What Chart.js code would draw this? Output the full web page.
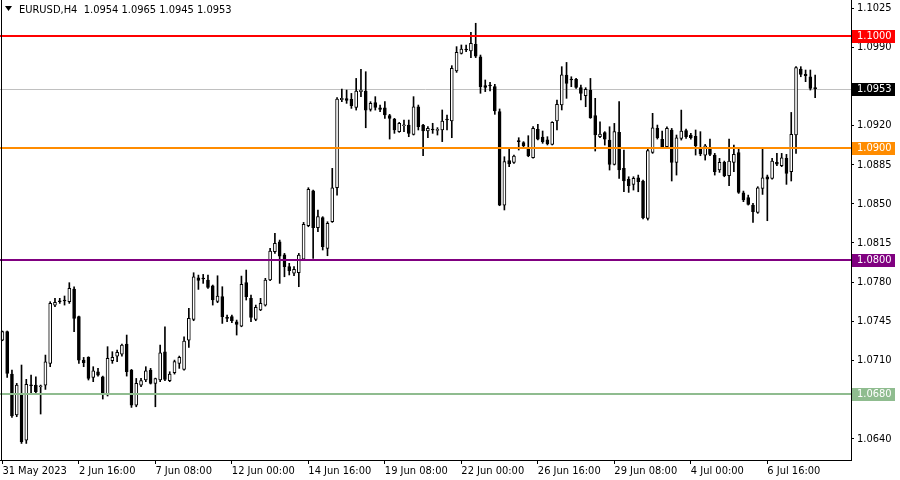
<!DOCTYPE html>
<html>
<head>
<meta charset="utf-8">
<script src="https://cdn.jsdelivr.net/npm/chart.js@4.4.1/dist/chart.umd.min.js"></script>
<style>
  html, body { margin: 0; padding: 0; background: #fff; }
  #wrap { width: 900px; height: 480px; }
</style>
</head>
<body>
<div id="wrap"><canvas id="chart" width="900" height="480"></canvas></div>
<script>
// ---------- Data (EURUSD H4) ----------
const chartTitle = 'EURUSD,H4  1.0954 1.0965 1.0945 1.0953';

const opens = [
  1.07282, 1.07357, 1.06978, 1.06612, 1.06805, 1.06388, 1.06874, 1.06880, 1.06865, 1.06880,
  1.07074, 1.07595, 1.07625, 1.07631, 1.07625, 1.07738, 1.07491, 1.07103, 1.07127, 1.06948,
  1.06999, 1.06954, 1.06791, 1.07097, 1.07139, 1.07157, 1.07246, 1.07014, 1.06701, 1.06880,
  1.06925, 1.07014, 1.06895, 1.06925, 1.07178, 1.06919, 1.06990, 1.07074, 1.07020, 1.07282,
  1.07467, 1.07839, 1.07828, 1.07819, 1.07768, 1.07628, 1.07670, 1.07476, 1.07491, 1.07446,
  1.07407, 1.07795, 1.07655, 1.07467, 1.07551, 1.07595, 1.07819, 1.08072, 1.08161, 1.08045,
  1.07938, 1.07879, 1.07885, 1.08006, 1.08304, 1.08617, 1.08286, 1.08376, 1.08102, 1.08340,
  1.08644, 1.09431, 1.09440, 1.09434, 1.09362, 1.09502, 1.09508, 1.09344, 1.09404, 1.09359,
  1.09359, 1.09288, 1.09258, 1.09145, 1.09198, 1.09204, 1.09121, 1.09368, 1.09204, 1.09151,
  1.09160, 1.09157, 1.09160, 1.09249, 1.09240, 1.09687, 1.09845, 1.09875, 1.09866, 1.09926,
  1.09815, 1.09556, 1.09553, 1.09547, 1.09324, 1.08489, 1.08886, 1.08871, 1.09056, 1.09047,
  1.09002, 1.08913, 1.09166, 1.09097, 1.09071, 1.09032, 1.09240, 1.09383, 1.09651, 1.09607,
  1.09612, 1.09538, 1.09466, 1.09517, 1.09288, 1.09100, 1.09136, 1.09070, 1.08853, 1.09139,
  1.08817, 1.08718, 1.08674, 1.08733, 1.08704, 1.08370, 1.08960, 1.09174, 1.09076, 1.09010,
  1.09160, 1.08870, 1.09085, 1.09154, 1.09115, 1.09103, 1.09002, 1.08936, 1.09002, 1.08936,
  1.08802, 1.08870, 1.08751, 1.08870, 1.08957, 1.08599, 1.08555, 1.08489, 1.08423, 1.08638,
  1.08742, 1.08727, 1.08870, 1.08841, 1.08906, 1.08787, 1.09115, 1.09705, 1.09657, 1.09636,
  1.09540
];
const highs = [
  1.07363, 1.07363, 1.07014, 1.06895, 1.07059, 1.06931, 1.06969, 1.06954, 1.06880, 1.07148,
  1.07625, 1.07655, 1.07655, 1.07676, 1.07795, 1.07759, 1.07497, 1.07127, 1.07133, 1.07044,
  1.07029, 1.06960, 1.07223, 1.07178, 1.07193, 1.07246, 1.07327, 1.07020, 1.06939, 1.06940,
  1.07044, 1.07029, 1.06942, 1.07238, 1.07401, 1.06999, 1.07103, 1.07139, 1.07312, 1.07565,
  1.07884, 1.07863, 1.07869, 1.07863, 1.07774, 1.07857, 1.07759, 1.07506, 1.07506, 1.07461,
  1.07854, 1.07908, 1.07685, 1.07595, 1.07655, 1.07834, 1.08102, 1.08236, 1.08176, 1.08057,
  1.07968, 1.07938, 1.08057, 1.08334, 1.08644, 1.08623, 1.08444, 1.08385, 1.08340, 1.08817,
  1.09449, 1.09526, 1.09517, 1.09487, 1.09621, 1.09702, 1.09681, 1.09413, 1.09458, 1.09383,
  1.09413, 1.09300, 1.09264, 1.09228, 1.09249, 1.09249, 1.09458, 1.09383, 1.09210, 1.09190,
  1.09220, 1.09181, 1.09339, 1.09294, 1.09735, 1.09905, 1.09920, 1.09920, 1.10033, 1.10114,
  1.09830, 1.09607, 1.09586, 1.09568, 1.09348, 1.08921, 1.08996, 1.08936, 1.09091, 1.09056,
  1.09109, 1.09190, 1.09211, 1.09151, 1.09100, 1.09234, 1.09428, 1.09726, 1.09764, 1.09636,
  1.09621, 1.09562, 1.09538, 1.09621, 1.09443, 1.09234, 1.09145, 1.09189, 1.09219, 1.09413,
  1.08981, 1.08742, 1.08742, 1.08757, 1.08712, 1.08990, 1.09309, 1.09204, 1.09151, 1.09189,
  1.09174, 1.09115, 1.09338, 1.09168, 1.09130, 1.09160, 1.09145, 1.09031, 1.09079, 1.08951,
  1.08906, 1.08882, 1.09079, 1.09025, 1.09002, 1.08614, 1.08578, 1.08504, 1.08653, 1.09002,
  1.08757, 1.08906, 1.08951, 1.08951, 1.08942, 1.09317, 1.09726, 1.09726, 1.09696, 1.09696,
  1.09650
];
const lows = [
  1.07276, 1.06948, 1.06591, 1.06597, 1.06358, 1.06358, 1.06811, 1.06811, 1.06621, 1.06841,
  1.07044, 1.07580, 1.07610, 1.07595, 1.07610, 1.07357, 1.07074, 1.07044, 1.06925, 1.06910,
  1.06960, 1.06755, 1.06782, 1.07074, 1.07088, 1.07139, 1.06960, 1.06680, 1.06686, 1.06865,
  1.06910, 1.06889, 1.06686, 1.06910, 1.06919, 1.06910, 1.06978, 1.07029, 1.07014, 1.07217,
  1.07455, 1.07735, 1.07789, 1.07744, 1.07595, 1.07616, 1.07431, 1.07446, 1.07437, 1.07327,
  1.07401, 1.07640, 1.07446, 1.07455, 1.07545, 1.07586, 1.07813, 1.08057, 1.07789, 1.07848,
  1.07864, 1.07858, 1.07759, 1.07997, 1.08295, 1.08012, 1.08251, 1.08087, 1.08036, 1.08334,
  1.08578, 1.09413, 1.09398, 1.09353, 1.09338, 1.09458, 1.09180, 1.09329, 1.09338, 1.09323,
  1.09264, 1.09079, 1.09130, 1.09139, 1.09145, 1.09100, 1.09115, 1.09160, 1.08930, 1.09091,
  1.09130, 1.09115, 1.09056, 1.09160, 1.09091, 1.09675, 1.09839, 1.09860, 1.09807, 1.09807,
  1.09488, 1.09503, 1.09509, 1.09300, 1.08483, 1.08445, 1.08832, 1.08862, 1.08981, 1.09011,
  1.08921, 1.08907, 1.09071, 1.09041, 1.09026, 1.09026, 1.09160, 1.09339, 1.09443, 1.09547,
  1.09532, 1.09428, 1.09368, 1.09264, 1.08972, 1.09091, 1.09025, 1.08802, 1.08847, 1.08727,
  1.08608, 1.08602, 1.08623, 1.08608, 1.08364, 1.08355, 1.08951, 1.09079, 1.09002, 1.09002,
  1.08704, 1.08757, 1.09070, 1.09085, 1.09079, 1.08936, 1.08930, 1.08891, 1.08930, 1.08757,
  1.08781, 1.08742, 1.08662, 1.08787, 1.08593, 1.08519, 1.08489, 1.08334, 1.08415, 1.08584,
  1.08349, 1.08721, 1.08841, 1.08832, 1.08674, 1.08704, 1.08951, 1.09636, 1.09592, 1.09517,
  1.09450
];
const closes = [
  1.07357, 1.06984, 1.06603, 1.06880, 1.06373, 1.06886, 1.06874, 1.06820, 1.06871, 1.07088,
  1.07610, 1.07619, 1.07625, 1.07631, 1.07744, 1.07476, 1.07103, 1.07080, 1.06939, 1.07008,
  1.06969, 1.06805, 1.07118, 1.07127, 1.07172, 1.07237, 1.06999, 1.06701, 1.06895, 1.06919,
  1.07008, 1.06895, 1.06937, 1.07169, 1.06931, 1.06978, 1.07089, 1.07127, 1.07273, 1.07476,
  1.07848, 1.07816, 1.07828, 1.07753, 1.07640, 1.07676, 1.07491, 1.07476, 1.07455, 1.07422,
  1.07780, 1.07670, 1.07485, 1.07574, 1.07610, 1.07819, 1.08078, 1.08146, 1.08033, 1.07938,
  1.07902, 1.07914, 1.08042, 1.08316, 1.08629, 1.08286, 1.08385, 1.08117, 1.08325, 1.08644,
  1.09437, 1.09443, 1.09425, 1.09377, 1.09508, 1.09517, 1.09338, 1.09398, 1.09362, 1.09344,
  1.09294, 1.09264, 1.09160, 1.09219, 1.09204, 1.09130, 1.09368, 1.09189, 1.09151, 1.09175,
  1.09160, 1.09163, 1.09240, 1.09249, 1.09711, 1.09854, 1.09884, 1.09875, 1.09935, 1.09821,
  1.09547, 1.09541, 1.09553, 1.09330, 1.08489, 1.08877, 1.08856, 1.08927, 1.09056, 1.09020,
  1.08930, 1.09175, 1.09079, 1.09056, 1.09035, 1.09228, 1.09389, 1.09652, 1.09577, 1.09607,
  1.09541, 1.09487, 1.09523, 1.09270, 1.09115, 1.09124, 1.09079, 1.08853, 1.09145, 1.08802,
  1.08704, 1.08662, 1.08727, 1.08698, 1.08376, 1.08975, 1.09180, 1.09091, 1.09010, 1.09174,
  1.08870, 1.09091, 1.09151, 1.09100, 1.09091, 1.09019, 1.08945, 1.09019, 1.08942, 1.08787,
  1.08870, 1.08751, 1.08882, 1.08942, 1.08602, 1.08534, 1.08495, 1.08429, 1.08644, 1.08733,
  1.08721, 1.08882, 1.08855, 1.08912, 1.08772, 1.09121, 1.09717, 1.09657, 1.09645, 1.09532,
  1.09530
];

// one label every 16 bars (H4, weekends skipped)
const xTickLabels = [
  '31 May 2023', '2 Jun 16:00', '7 Jun 08:00', '12 Jun 00:00', '14 Jun 16:00', '19 Jun 08:00',
  '22 Jun 00:00', '26 Jun 16:00', '29 Jun 08:00', '4 Jul 00:00', '6 Jul 16:00'
];
const xTickEvery = 16;
const barSlots = 178; // visible bar slots incl. empty right margin

const yTicks = [1.0640, 1.0675, 1.0710, 1.0745, 1.0780, 1.0815, 1.0850, 1.0885, 1.0920, 1.0955, 1.0990, 1.1025];
const yMin = 1.06210;
const yMax = 1.10322;

const levelPrices = [1.1000, 1.0900, 1.0800, 1.0680];
const lastPrice = 1.0953;

// ---------- Styles ----------
const levelColors = ['#ff0000', '#ff8c00', '#800080', '#8fbc8f'];
const FONT = "'DejaVu Sans Condensed', 'DejaVu Sans', sans-serif";
Chart.defaults.font.family = FONT;
Chart.defaults.font.size = 11;
Chart.defaults.color = '#000';

const slots = Array.from({length: barSlots}, (_, i) => i);
const bodies = opens.map((o, i) => [o, closes[i]]);
const wicks = lows.map((l, i) => [l, highs[i]]);

function nearLevel(v){
  return levelPrices.concat([lastPrice]).some(p => Math.abs(p - v) < 0.0007);
}

const levelsPlugin = {
  id: 'levels',
  beforeDatasetsDraw(chart){
    const {ctx, chartArea: a, scales: {y}} = chart;
    const py = Math.round(y.getPixelForValue(lastPrice)) + 0.5;
    ctx.save();
    ctx.strokeStyle = '#c0c0c0';
    ctx.lineWidth = 1;
    ctx.beginPath();
    ctx.moveTo(a.left, py);
    ctx.lineTo(a.right, py);
    ctx.stroke();
    ctx.restore();
  },
  afterDatasetsDraw(chart){
    const {ctx, chartArea: a, scales: {y}} = chart;
    ctx.save();
    levelPrices.forEach((p, i) => {
      const py = Math.round(y.getPixelForValue(p));
      ctx.strokeStyle = levelColors[i];
      ctx.lineWidth = 2;
      ctx.beginPath();
      ctx.moveTo(a.left, py);
      ctx.lineTo(a.right, py);
      ctx.stroke();
    });
    ctx.restore();
  },
  afterDraw(chart){
    const {ctx, chartArea: a, scales: {y}} = chart;
    ctx.save();
    // left frame edge
    ctx.strokeStyle = '#000';
    ctx.lineWidth = 1;
    ctx.beginPath();
    ctx.moveTo(a.left + 1.5, a.top);
    ctx.lineTo(a.left + 1.5, a.bottom);
    ctx.stroke();

    // price tags on the right axis
    ctx.font = '11px ' + FONT;
    ctx.textBaseline = 'middle';
    ctx.textAlign = 'left';
    const tags = levelPrices.map((p, i) => [p, levelColors[i]]).concat([[lastPrice, '#000']]);
    tags.forEach(([p, col]) => {
      const py = Math.round(y.getPixelForValue(p));
      ctx.fillStyle = col;
      ctx.fillRect(a.right + 1, py - 6, 43, 13);
      ctx.fillStyle = '#fff';
      ctx.fillText(p.toFixed(4), a.right + 6, py + 0.5);
    });

    // title with the little dropdown triangle
    ctx.fillStyle = '#000';
    ctx.beginPath();
    ctx.moveTo(5, 6);
    ctx.lineTo(12, 6);
    ctx.lineTo(8.5, 11);
    ctx.closePath();
    ctx.fill();
    ctx.fillText(chartTitle, 19, 10);
    ctx.restore();
  }
};

const ctx = document.getElementById('chart').getContext('2d');
new Chart(ctx, {
  type: 'bar',
  data: {
    labels: slots,
    datasets: [
      {
        label: 'Wick',
        data: wicks,
        barThickness: 1,
        backgroundColor: '#000',
        grouped: false,
        order: 2
      },
      {
        label: 'Body',
        data: bodies,
        barThickness: 3,
        minBarLength: 1,
        borderWidth: 1,
        borderColor: '#000',
        borderSkipped: false,
        backgroundColor: (c) => closes[c.dataIndex] > opens[c.dataIndex] ? '#fff' : '#000',
        grouped: false,
        order: 1
      }
    ]
  },
  options: {
    responsive: false,
    animation: false,
    events: [],
    layout: {padding: 0},
    plugins: {legend: {display: false}, tooltip: {enabled: false}},
    scales: {
      x: {
        type: 'category',
        offset: true,
        grid: {display: true, offset: false, drawOnChartArea: false, drawTicks: true, tickLength: 4, color: '#000'},
        border: {display: true, color: '#000'},
        ticks: {
          autoSkip: false,
          maxRotation: 0,
          minRotation: 0,
          align: 'start',
          padding: 1,
          callback: (v) => xTickLabels[v / xTickEvery]
        },
        afterBuildTicks: (s) => {
          s.ticks = s.ticks.filter(t => t.value % xTickEvery === 0 && t.value / xTickEvery < xTickLabels.length);
        },
        afterFit: (s) => { s.height = 20; s.paddingLeft = 0; s.paddingRight = 0; }
      },
      y: {
        position: 'right',
        min: yMin,
        max: yMax,
        grid: {drawOnChartArea: false, drawTicks: true, tickLength: 3, color: '#000'},
        border: {display: true, color: '#000'},
        ticks: {
          padding: 3,
          callback: (v) => nearLevel(v) ? '' : Number(v).toFixed(4)
        },
        afterBuildTicks: (s) => { s.ticks = yTicks.map(v => ({value: v})); },
        afterFit: (s) => { s.width = 49; s.paddingTop = 0; s.paddingBottom = 0; }
      }
    }
  },
  plugins: [levelsPlugin]
});
</script>
</body>
</html>
